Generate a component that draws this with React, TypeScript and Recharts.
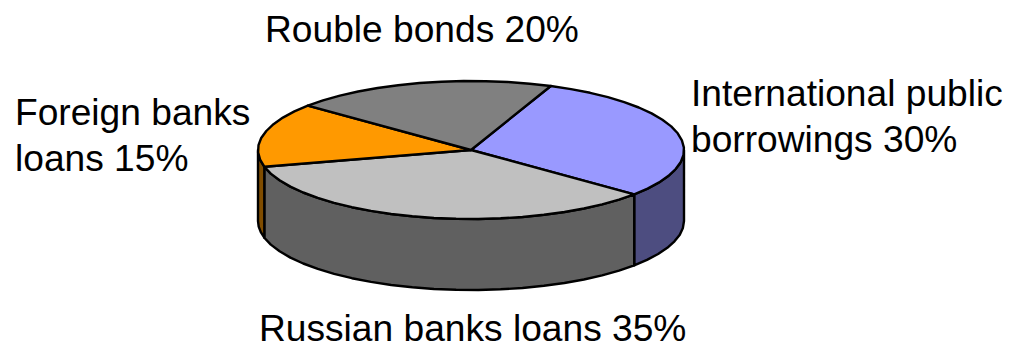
import { Pie, PieChart } from 'recharts';

const categories = ['International public borrowings', 'Russian banks loans', 'Foreign banks loans', 'Rouble bonds'];
const shares = [30, 35, 15, 20];
const topColors = ['#9999FF', '#C0C0C0', '#FF9900', '#808080'];
const wallColors = ['#4D4D80', '#606060', '#804D00', '#404040'];

// text lines and where each slice's caption sits
const captionLines = [
  ['International public', 'borrowings 30%'],
  ['Russian banks loans 35%'],
  ['Foreign banks', 'loans 15%'],
  ['Rouble bonds 20%'],
];
const captionPos = [
  { x: 691, y: 106 },
  { x: 259, y: 341 },
  { x: 15, y: 125 },
  { x: 265, y: 42 },
];

const WIDTH = 1009;
const HEIGHT = 344;
const CX = 471;
const CY = 150;
const RADIUS = 213;
const SQUASH = 69 / 213;
const DEPTH = 71;
const STEP = 6; // coarse outline, the disc edge is a polygon rather than a smooth arc

const RAD = Math.PI / 180;

function rimPoints(cx: number, cy: number, r: number, from: number, to: number) {
  const pts: [number, number][] = [];
  const n = Math.max(1, Math.ceil(Math.abs(to - from) / STEP));
  for (let i = 0; i <= n; i++) {
    const a = (from + ((to - from) * i) / n) * RAD;
    pts.push([cx + r * Math.cos(a), cy - r * SQUASH * Math.sin(a)]);
  }
  return pts;
}

const toPath = (pts: [number, number][]) =>
  pts.map((p, i) => `${i ? 'L' : 'M'}${p[0].toFixed(1)},${p[1].toFixed(1)}`).join(' ') + ' Z';

function TopSlice(props: any) {
  const { cx, cy, outerRadius, startAngle, endAngle, index } = props;
  const pts: [number, number][] = [[cx, cy], ...rimPoints(cx, cy, outerRadius, startAngle, endAngle)];
  return <path d={toPath(pts)} fill={topColors[index]} stroke="#000" strokeWidth={2.4} strokeLinejoin="round" />;
}

// only the part of a slice facing the viewer (angles below the horizontal) gets a wall
function WallSlice(props: any) {
  const { cx, cy, outerRadius, startAngle, endAngle, index } = props;
  const from = Math.min(startAngle, 0);
  const to = Math.max(endAngle, -180);
  if (from <= to) return <g />;
  const top = rimPoints(cx, cy, outerRadius, from, to);
  const bottom = top.map(([x, y]) => [x, y + DEPTH] as [number, number]).reverse();
  return <path d={toPath([...top, ...bottom])} fill={wallColors[index]} stroke="#000" strokeWidth={2.4} strokeLinejoin="round" />;
}

function Caption(props: any) {
  const { index } = props;
  const pos = captionPos[index];
  return (
    <text x={pos.x} y={pos.y} fontSize={37.15} fontFamily="Liberation Sans, Arial, sans-serif" fill="#000">
      {captionLines[index].map((line, i) => (
        <tspan key={line} x={pos.x} dy={i ? 46 : 0}>
          {line}
        </tspan>
      ))}
    </text>
  );
}

const data = categories.map((name, i) => ({ name, value: shares[i] }));

export default function App() {
  return (
    <div style={{ position: 'absolute', left: 0, top: 0, width: WIDTH, height: HEIGHT, background: '#fff' }}>
      <PieChart width={WIDTH} height={HEIGHT} margin={{ top: 0, right: 0, bottom: 0, left: 0 }}>
        <Pie
          data={data}
          dataKey="value"
          cx={CX}
          cy={CY}
          outerRadius={RADIUS}
          startAngle={68}
          endAngle={-292}
          shape={WallSlice}
          isAnimationActive={false}
        />
        <Pie
          data={data}
          dataKey="value"
          cx={CX}
          cy={CY}
          outerRadius={RADIUS}
          startAngle={68}
          endAngle={-292}
          shape={TopSlice}
          label={Caption}
          labelLine={false}
          isAnimationActive={false}
        />
      </PieChart>
    </div>
  );
}
